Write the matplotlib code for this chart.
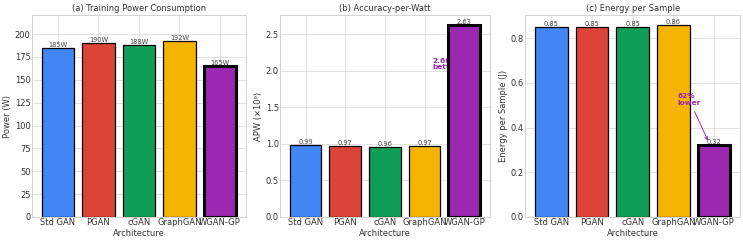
import numpy as np
import matplotlib
matplotlib.use("Agg")
import matplotlib.pyplot as plt
import seaborn as sns

sns.set_style("whitegrid")
plt.rcParams['font.family'] = ['DejaVu Sans']

archs = ["Std GAN", "PGAN", "cGAN", "GraphGAN", "WGAN-GP"]
power = [185, 190, 188, 192, 165]
apw = [0.99, 0.97, 0.96, 0.97, 2.63]
energy = [0.85, 0.85, 0.85, 0.86, 0.32]
colors = ["#4285F4", "#DB4437", "#0F9D58", "#F4B400", "#9C27B0"]
purple = "#9C27B0"

fig = plt.figure(figsize=(7.43, 2.41), dpi=100)
ax1 = fig.add_axes([0.043, 0.0996, 0.288, 0.838])
ax2 = fig.add_axes([0.377, 0.0996, 0.282, 0.838])
ax3 = fig.add_axes([0.707, 0.0996, 0.289, 0.838])

x = np.arange(len(archs))
lws = [0.9, 0.9, 0.9, 0.9, 2.2]


def draw(ax, vals, fmt, title, ylabel, ymax):
    bars = ax.bar(x, vals, width=0.8, color=colors, edgecolor="black",
                  linewidth=lws, zorder=3)
    for b, v in zip(bars, vals):
        ax.text(b.get_x() + b.get_width() / 2, v, fmt.format(v),
                ha="center", va="bottom", fontsize=4.8, color="#444444", zorder=4)
    ax.set_xticks(x)
    ax.set_xticklabels(archs)
    ax.set_ylim(0, ymax)
    ax.set_title(title, fontsize=6.0, pad=3, color="#333333")
    ax.set_xlabel("Architecture", fontsize=6.0, labelpad=1, color="#333333")
    ax.set_ylabel(ylabel, fontsize=6.0, labelpad=2, color="#333333")
    ax.tick_params(axis="both", labelsize=6, pad=1, length=0, colors="#333333")
    ax.grid(True, color="#dddddd", linewidth=0.6)
    for s in ax.spines.values():
        s.set_color("#cccccc")
        s.set_linewidth(0.6)


draw(ax1, power, "{:.0f}W", "(a) Training Power Consumption", "Power (W)", max(power) * 1.15)
ax1.set_yticks(np.arange(0, 201, 25))

draw(ax2, apw, "{:.2f}", "(b) Accuracy-per-Watt", "APW (×10⁹)", max(apw) * 1.05)
ax2.text(3.2, 2.09, "2.66×\nbetter", ha="left", va="center", fontsize=5.3,
         fontweight="bold", color=purple, zorder=2, linespacing=1.1)

draw(ax3, energy, "{:.2f}", "(c) Energy per Sample", "Energy per Sample (J)", max(energy) * 1.05)
ax3.annotate("62%\nlower", xy=(3.88, 0.33), xytext=(3.1, 0.525),
             ha="left", va="center", fontsize=5.3, fontweight="bold",
             color=purple, linespacing=1.1, zorder=5,
             arrowprops=dict(arrowstyle="->", color=purple, lw=0.7))

fig.savefig("out.png", dpi=100)
